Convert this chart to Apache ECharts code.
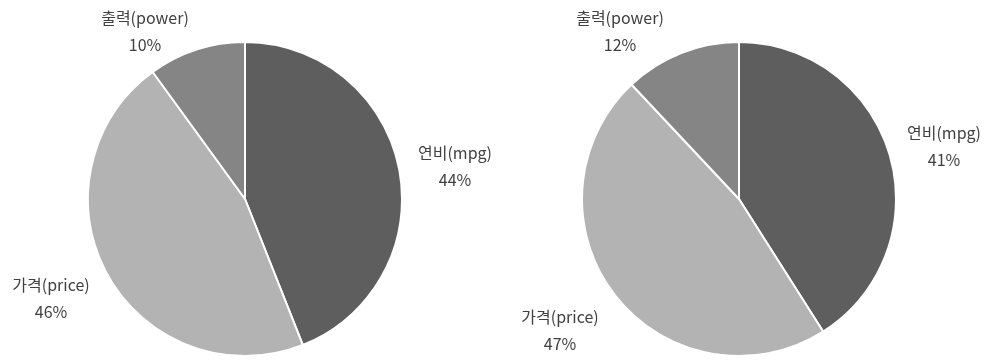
<!DOCTYPE html>
<html>
<head>
<meta charset="utf-8">
<script src="https://cdn.jsdelivr.net/npm/echarts@6/dist/echarts.min.js"></script>
<style>
  html, body { margin: 0; padding: 0; background: #fff; }
  #chart { width: 990px; height: 360px; }
</style>
</head>
<body>
<div id="chart"></div>
<script>
// Share of purchase factors, two survey groups
const categories = ['연비(mpg)', '가격(price)', '출력(power)'];
const groupA = [44, 46, 10];
const groupB = [41, 47, 12];

const sliceColors = ['#5e5e5e', '#b3b3b3', '#858585'];

// label anchor points (centre of each two-line label)
const labelSpotsA = [[455, 166], [51, 298], [145, 31]];
const labelSpotsB = [[944, 146], [560, 330], [620, 31]];

function makePie(values, center, spots) {
  return {
    type: 'pie',
    center: center,
    radius: 157,
    startAngle: 90,
    clockwise: true,
    silent: true,
    itemStyle: { borderColor: '#ffffff', borderWidth: 2 },
    label: {
      show: true,
      formatter: '{b}\n{d}%',
      fontFamily: '"Noto Sans CJK KR", "Noto Sans", sans-serif',
      fontSize: 16,
      lineHeight: 27,
      color: '#404040',
      align: 'center',
      overflow: 'none',
      width: 140
    },
    labelLine: { show: false },
    labelLayout: function (p) {
      const s = spots[p.dataIndex];
      return { x: s[0], y: s[1], align: 'center', verticalAlign: 'middle' };
    },
    data: categories.map((name, i) => ({
      name: name,
      value: values[i],
      itemStyle: { color: sliceColors[i] }
    }))
  };
}

const chart = echarts.init(document.getElementById('chart'), null, { renderer: 'canvas' });
chart.setOption({
  animation: false,
  backgroundColor: '#ffffff',
  series: [
    makePie(groupA, [245, 199], labelSpotsA),
    makePie(groupB, [739, 199], labelSpotsB)
  ]
});
</script>
</body>
</html>
